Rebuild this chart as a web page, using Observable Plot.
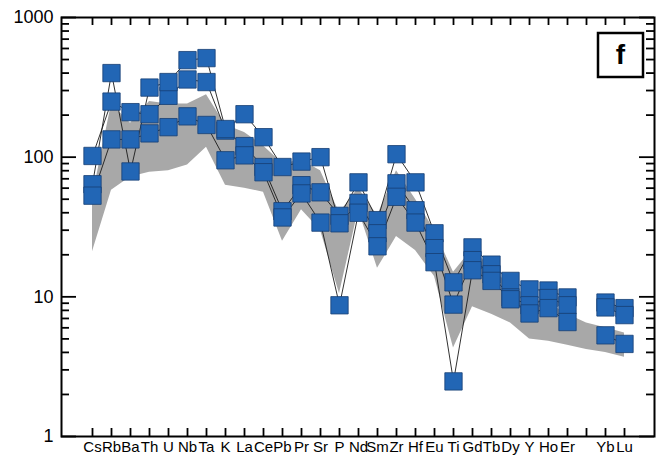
<!DOCTYPE html>
<html><head><meta charset="utf-8">
<script src="https://cdn.jsdelivr.net/npm/d3@7"></script>
<script src="https://cdn.jsdelivr.net/npm/@observablehq/plot@0.6"></script>
<style>body{margin:0;background:#fff}</style>
</head><body><div id="chart"></div>
<script>
const elements = ["Cs","Rb","Ba","Th","U","Nb","Ta","K","La","Ce","Pb","Pr","Sr","P","Nd","Sm","Zr","Hf","Eu","Ti","Gd","Tb","Dy","Y","Ho","Er","Tm","Yb","Lu"];
const tickLabels = ["Cs","Rb","Ba","Th","U","Nb","Ta","K","La","Ce","Pb","Pr","Sr","P","Nd","Sm","Zr","Hf","Eu","Ti","Gd","Tb","Dy","Y","Ho","Er","","Yb","Lu"];

const sample1 = [102,250,210,203,275,360,345,155,120,85,41,63,56,38,66,35.4,105,66,28.5,12.7,22.6,17,13,11.3,11.1,9.9,null,9.1,8.3];
const sample2 = [64,400,79,315,345,495,512,159,203,139,85,93,100,33.6,47,28.5,65,41.7,22.3,8.8,18.3,14.5,9.9,8.7,9.8,8.7,null,8.4,7.4];
const sample3 = [53,134,134,148,164,196,170,95,103,78,37,55,34,8.7,40,23,52,34,17.7,2.48,15.5,13,9.6,7.6,8.3,6.6,null,5.3,4.6];

const fieldUpper = [52,240,175,250,240,240,280,170,150,120,90,95,80,40,60,38,80,50,30,15,22,16,12,10,9,7.5,6.5,6,5.5];
const fieldLower = [21,58,72,78,80,88,118,63,60,56,25,42,30,10.5,42,16,27,21.5,14,4.3,8.5,7.5,6.5,5,4.8,4.5,4.2,4,3.7];

const yMajor = [1,10,100,1000];
const yMinorFactors = [2,3,4,5,6,7,8,9];

(function(){
const band = elements.map((e,i)=>({el:e, lo:fieldLower[i], hi:fieldUpper[i]}));
const pts = [];
[sample1,sample2,sample3].forEach((s,k)=>s.forEach((v,i)=>pts.push({sample:k, el:elements[i], v})));
const yMinor = [];
for (const d of [1,10,100]) for (const m of yMinorFactors) yMinor.push(d*m);
const labelOf = new Map(elements.map((e,i)=>[e, tickLabels[i]]));

const W = 660, H = 460, mL = 61, mR = 6, mT = 17, mB = 24;
const innerW = W - mL - mR, innerH = H - mT - mB;
const rk = {stroke:"#000", strokeWidth:1.8};

const plot = Plot.plot({
  width:W, height:H, marginLeft:mL, marginRight:mR, marginTop:mT, marginBottom:mB,
  style:{fontFamily:"'Liberation Sans', Arial, sans-serif", background:"#fff", color:"#000"},
  x:{type:"point", domain:elements, padding:0.93},
  y:{type:"log", domain:[1,1000]},
  marks:[
    Plot.areaY(band,{x:"el", y1:"lo", y2:"hi", fill:"#a8a8a8"}),
    Plot.line(pts,{x:"el", y:"v", z:"sample", stroke:"#1a1a1a", strokeWidth:0.9}),
    Plot.dot(pts.filter(d=>d.v!=null),{x:"el", y:"v", symbol:"square", r:9.8, fill:"#2266b5", stroke:"#173f73", strokeWidth:0.8}),
    // inward ticks as short rules (full-span rules cut down by insets)
    Plot.ruleX(elements, {...rk, x:d=>d, insetBottom:innerH - 8}),
    Plot.ruleX(elements, {...rk, x:d=>d, insetTop:innerH - 8}),
    Plot.ruleY(yMajor, {...rk, y:d=>d, insetRight:innerW - 15}),
    Plot.ruleY(yMinor, {...rk, y:d=>d, insetRight:innerW - 8}),
    Plot.ruleY(yMajor, {...rk, y:d=>d, insetLeft:innerW - 15}),
    Plot.ruleY(yMinor, {...rk, y:d=>d, insetLeft:innerW - 8}),
    Plot.axisX({anchor:"bottom", tickSize:0, tickPadding:5, tickFormat:d=>labelOf.get(d), label:null, fontSize:15}),
    Plot.axisY({anchor:"left", ticks:yMajor, tickSize:0, tickPadding:8, tickFormat:d=>String(d), label:null, fontSize:18}),
    Plot.frame({stroke:"#000", strokeWidth:2})
  ]
});
document.getElementById("chart").appendChild(plot);

// panel letter box
const svg = d3.select(plot);
const g = svg.append("g");
g.append("rect").attr("x",598).attr("y",33).attr("width",45).attr("height",44)
  .attr("fill","#fff").attr("stroke","#000").attr("stroke-width",2.5);
g.append("text").attr("x",620.5).attr("y",64).attr("text-anchor","middle")
  .attr("font-family","'Liberation Sans', Arial, sans-serif").attr("font-weight","bold")
  .attr("font-size",28).attr("fill","#000").text("f");
})();
</script>
</body></html>
